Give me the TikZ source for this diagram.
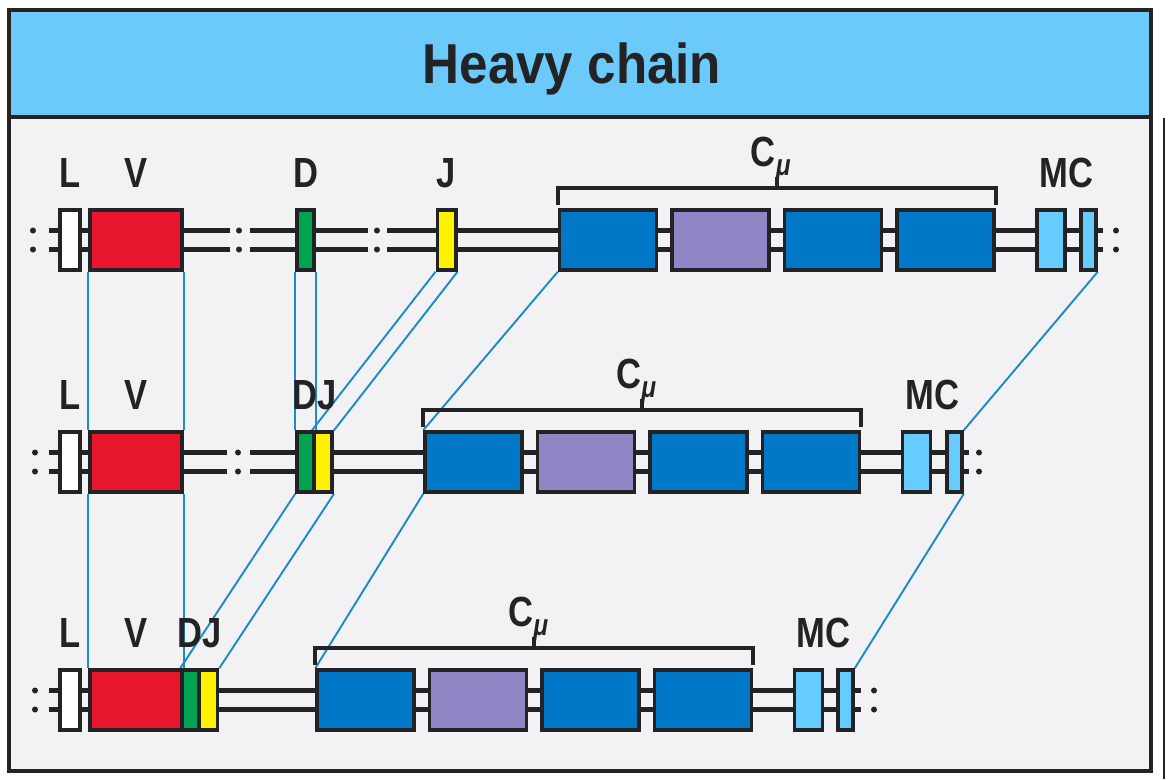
\documentclass[tikz,border=0pt]{standalone}
\usepackage{fontspec}
\setmainfont{Liberation Sans}
\newfontfamily\headfont[FakeStretch=0.91]{Liberation Sans}
\newfontfamily\labfont[FakeStretch=0.82]{Liberation Sans}
\usetikzlibrary{calc}
\pgfdeclarelayer{bg}
\pgfsetlayers{bg,main}
\definecolor{outline}{RGB}{35,35,38}
\definecolor{headblue}{RGB}{108,202,250}
\definecolor{bodygray}{RGB}{242,242,244}
\definecolor{vred}{RGB}{232,23,45}
\definecolor{dgreen}{RGB}{0,163,80}
\definecolor{jyellow}{RGB}{255,242,0}
\definecolor{cblue}{RGB}{0,120,200}
\definecolor{cpurple}{RGB}{143,134,198}
\definecolor{mcblue}{RGB}{102,204,255}
\definecolor{linkblue}{RGB}{30,138,200}
\tikzset{
    seg/.style={draw=outline, line width=2pt, inner sep=0pt, minimum height=1.2cm},
    lseg/.style={seg, fill=white, minimum width=0.4cm},
    vseg/.style={seg, fill=vred, minimum width=1.84cm},
    dseg/.style={seg, fill=dgreen, minimum width=0.34cm},
    jseg/.style={seg, fill=jyellow, minimum width=0.37cm},
    cseg/.style={seg, minimum width=1.94cm},
    mseg/.style={seg, fill=mcblue, minimum width=0.56cm},
    mtseg/.style={seg, fill=mcblue, minimum width=0.3cm},
    brk/.style={inner sep=0pt, minimum size=0pt},
    gap/.style={circle, fill=outline, inner sep=0pt, minimum size=0.12cm},
    rail/.style={outline, line width=2.7pt},
    link/.style={linkblue, line width=1.1pt},
    brak/.style={outline, line width=2.2pt},
    lab/.style={font=\labfont\bfseries\fontsize{24}{24}\selectfont, text=outline, inner sep=0pt, anchor=base},
    title/.style={font=\headfont\bfseries\fontsize{32}{32}\selectfont, text=outline, inner sep=0pt, anchor=base}
}
\newcommand\rails[2]{%
    \draw[rail] ([yshift=0.19cm]#1.east) -- ([yshift=0.19cm]#2.west);
    \draw[rail] ([yshift=-0.19cm]#1.east) -- ([yshift=-0.19cm]#2.west);}

\begin{document}
\begin{tikzpicture}[x=0.02cm,y=-0.02cm]
\useasboundingbox (0,0) rectangle (1168,779);
\begin{pgfonlayer}{bg}
\fill[white] (0,0) rectangle (1168,779);
\fill[bodygray] (9,117) rectangle (1151,771);
\fill[headblue] (9,10) rectangle (1151,117);
\end{pgfonlayer}
\node[title] (head) at (572,83) {Heavy chain};

% germline
\node[lseg] (L1) at (70,240) {};
\node[vseg] (V1) at (136,240) {};
\node[dseg] (D1) at (305.5,240) {};
\node[jseg] (J1) at (446.5,240) {};
\foreach \k/\c in {1/cblue,2/cpurple,3/cblue,4/cblue}
  \node[cseg, fill=\c] (C1\k) at ({608+112.5*(\k-1)},240) {};
\node[mseg] (M11) at (1051,240) {};
\node[mtseg] (M12) at (1088.5,240) {};
\node[brk] (s1) at (49,240) {};
\node[brk] (e1) at (230,240) {};
\node[brk] (f1) at (250,240) {};
\node[brk] (g1) at (368,240) {};
\node[brk] (h1) at (387,240) {};
\node[brk] (t1) at (1103,240) {};

% D-J joined
\node[lseg] (L2) at (70,462) {};
\node[vseg] (V2) at (136,462) {};
\node[dseg] (D2) at (305.5,462) {};
\node[jseg] (J2) at (323,462) {};
\foreach \k/\c in {1/cblue,2/cpurple,3/cblue,4/cblue}
  \node[cseg, fill=\c] (C2\k) at ({473.5+112.5*(\k-1)},462) {};
\node[mseg] (M21) at (916.5,462) {};
\node[mtseg] (M22) at (954.5,462) {};
\node[brk] (s2) at (49,462) {};
\node[brk] (e2) at (227,462) {};
\node[brk] (f2) at (250,462) {};
\node[brk] (t2) at (969,462) {};

% V-DJ joined
\node[lseg] (L3) at (70,700) {};
\node[vseg] (V3) at (136,700) {};
\node[dseg] (D3) at (190.5,700) {};
\node[jseg] (J3) at (208.25,700) {};
\foreach \k/\c in {1/cblue,2/cpurple,3/cblue,4/cblue}
  \node[cseg, fill=\c] (C3\k) at ({365.5+112.5*(\k-1)},700) {};
\node[mseg] (M31) at (808.5,700) {};
\node[mtseg] (M32) at (845.5,700) {};
\node[brk] (s3) at (49,700) {};
\node[brk] (t3) at (861,700) {};

% dots at the breaks
\foreach \x/\y [count=\n] in {33/240,239/240,377/240,1116/240,35/462,238/462,979/462,35/700,874/700} {
  \node[gap] (gt\n) at (\x,\y-9.5) {};
  \node[gap] (gb\n) at (\x,\y+9.5) {};
}

\begin{pgfonlayer}{bg}
% rails
\foreach \a/\b in {s1/L1,L1/V1,V1/e1,f1/D1,D1/g1,h1/J1,J1/C11,C11/C12,C12/C13,C13/C14,C14/M11,M11/M12,M12/t1,
                   s2/L2,L2/V2,V2/e2,f2/D2,J2/C21,C21/C22,C22/C23,C23/C24,C24/M21,M21/M22,M22/t2,
                   s3/L3,L3/V3,J3/C31,C31/C32,C32/C33,C33/C34,C34/M31,M31/M32,M32/t3}
  \rails{\a}{\b};

% rearrangement links
\foreach \a/\b in {V1/V2,V2/V3,D1/D2,J1/J2} {
  \draw[link] (\a.south west) -- (\b.north west);
  \draw[link] (\a.south east) -- (\b.north east);
}
\draw[link] (D2.south west) -- (D3.north west);
\draw[link] (J2.south east) -- (J3.north east);
\draw[link] (C11.south west) -- (C21.north west);
\draw[link] (C21.south west) -- (C31.north west);
\draw[link] (M12.south east) -- (M22.north east);
\draw[link] (M22.south east) -- (M32.north east);
\end{pgfonlayer}

% C mu brackets
\foreach \r in {1,2,3} {
  \draw[brak] ([yshift=0.06cm]C\r1.north west) -- ++(0,-17) -| ([yshift=0.06cm]C\r4.north east);
  \coordinate (k\r) at ($(C\r1.north west)!.5!(C\r4.north east)+(0,-20)$);
  \draw[brak] (k\r) -- ++(0,-11);
  \node[lab] (cmu\r) at ($(k\r)+(-6,-22)$) {C\raisebox{-0.22em}{\fontsize{17}{17}\selectfont\itshape μ}};
}

% labels
\foreach \n/\t in {L1/L,V1/V,D1/D,J1/J,L2/L,V2/V,L3/L,V3/V}
  \node[lab] (lab\n) at ($(\n.north)+(0,-21)$) {\t};
\node[lab] (labDJ2) at ($(D2.north west)!.5!(J2.north east)+(0,-21)$) {DJ};
\node[lab] (labDJ3) at ($(D3.north west)!.5!(J3.north east)+(0,-21)$) {DJ};
\foreach \r in {1,2,3}
  \node[lab] (labMC\r) at ($(M\r1.north west)!.5!(M\r2.north east)+(0,-21)$) {MC};

% frame
\draw[outline, line width=2.4pt] (9,10) rectangle (1151,771);
\draw[outline, line width=2.4pt] (9,117) -- (1151,117);
\draw[outline, line width=1.6pt] (1164,118) -- (1164,779);
\end{tikzpicture}
\end{document}
